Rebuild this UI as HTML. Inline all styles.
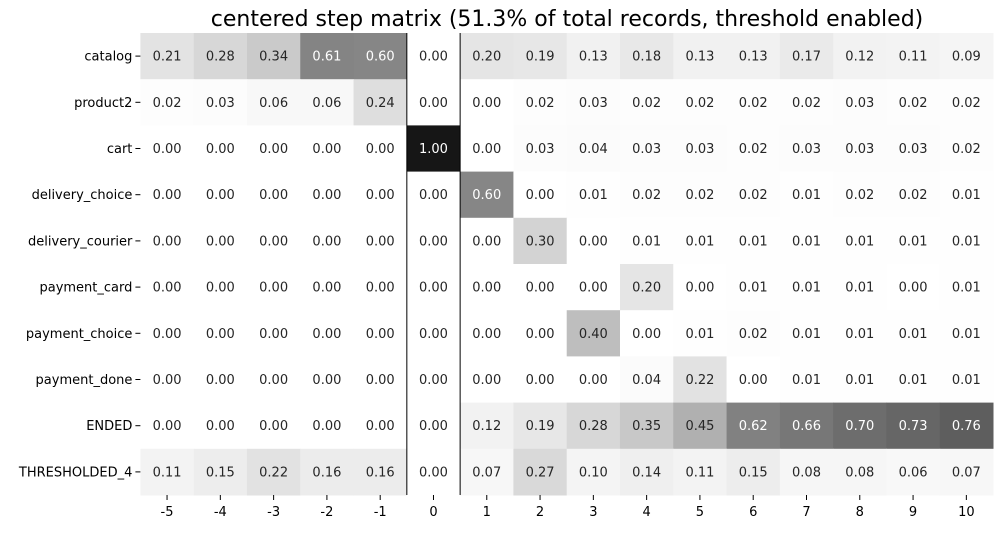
<!DOCTYPE html>
<html><head><meta charset="utf-8"><style>
body{margin:0;background:#fff}
svg text{font-family:"DejaVu Sans","Liberation Sans",sans-serif}
</style></head><body>
<svg id="chart" width="1003" height="530" xmlns="http://www.w3.org/2000/svg">
<text x="567" y="26" text-anchor="middle" font-size="22" fill="#000">centered step matrix (51.3% of total records, threshold enabled)</text>
<g id="cells"></g><g id="axes"></g>
</svg>
<script>
const steps = [-5,-4,-3,-2,-1,0,1,2,3,4,5,6,7,8,9,10];
const events = ["catalog","product2","cart","delivery_choice","delivery_courier","payment_card","payment_choice","payment_done","ENDED","THRESHOLDED_4"];
const r_catalog = [0.21,0.28,0.34,0.61,0.60,0.00,0.20,0.19,0.13,0.18,0.13,0.13,0.17,0.12,0.11,0.09];
const r_product2 = [0.02,0.03,0.06,0.06,0.24,0.00,0.00,0.02,0.03,0.02,0.02,0.02,0.02,0.03,0.02,0.02];
const r_cart = [0,0,0,0,0,1.00,0.00,0.03,0.04,0.03,0.03,0.02,0.03,0.03,0.03,0.02];
const r_delivery_choice = [0,0,0,0,0,0,0.60,0.00,0.01,0.02,0.02,0.02,0.01,0.02,0.02,0.01];
const r_delivery_courier = [0,0,0,0,0,0,0.00,0.30,0.00,0.01,0.01,0.01,0.01,0.01,0.01,0.01];
const r_payment_card = [0,0,0,0,0,0,0.00,0.00,0.00,0.20,0.00,0.01,0.01,0.01,0.00,0.01];
const r_payment_choice = [0,0,0,0,0,0,0.00,0.00,0.40,0.00,0.01,0.02,0.01,0.01,0.01,0.01];
const r_payment_done = [0,0,0,0,0,0,0.00,0.00,0.00,0.04,0.22,0.00,0.01,0.01,0.01,0.01];
const r_ended = [0,0,0,0,0,0,0.12,0.19,0.28,0.35,0.45,0.62,0.66,0.70,0.73,0.76];
const r_thresholded = [0.11,0.15,0.22,0.16,0.16,0.00,0.07,0.27,0.10,0.14,0.11,0.15,0.08,0.08,0.06,0.07];
const values = [r_catalog,r_product2,r_cart,r_delivery_choice,r_delivery_courier,r_payment_card,r_payment_choice,r_payment_done,r_ended,r_thresholded];

const X0=140.4, X1=993, Y0=33, Y1=495;
const cw=(X1-X0)/steps.length, ch=(Y1-Y0)/events.length;
const xOf=i=>X0+i*cw, yOf=j=>Y0+j*ch;
const stops=[255,240,217,189,150,115,82,37,0];
function grey(v){v=Math.max(0,Math.min(1,v/1.08));const t=v*8,i=Math.min(7,Math.floor(t)),f=t-i;const g=Math.round(stops[i]+(stops[i+1]-stops[i])*f);return `rgb(${g},${g},${g})`;}
const NS="http://www.w3.org/2000/svg";
const cells=document.getElementById('cells'), axes=document.getElementById('axes');
function mk(tag,attrs,parent){const e=document.createElementNS(NS,tag);for(const k in attrs)e.setAttribute(k,attrs[k]);parent.appendChild(e);return e;}
values.forEach((row,j)=>{row.forEach((v,i)=>{
  const r=mk('rect',{x:xOf(i),y:yOf(j),width:cw+0.5,height:ch+0.5,fill:grey(v)},cells);
  
  
  const t=mk('text',{x:xOf(i)+cw/2,y:yOf(j)+ch/2+4.5,'text-anchor':'middle','font-size':13,fill:v>0.5?'#fff':'#262626'},cells);
  t.textContent=v.toFixed(2);
  
  
});});
events.forEach((e,j)=>{
  const y=yOf(j)+ch/2;
  mk('line',{x1:X0-5,x2:X0,y1:y,y2:y,stroke:'#000'},axes);
  const t=mk('text',{x:X0-8,y:y+4.5,'text-anchor':'end','font-size':13,fill:'#000'},axes);
  t.textContent=e;
  
  
});
steps.forEach((s,i)=>{
  const x=xOf(i)+cw/2;
  mk('line',{x1:x,x2:x,y1:Y1,y2:Y1+5,stroke:'#000'},axes);
  const t=mk('text',{x:x,y:Y1+21,'text-anchor':'middle','font-size':13,fill:'#000'},axes);
  t.textContent=s;
  
  
});
const zi=steps.indexOf(0);
[zi,zi+1].forEach(i=>{
  const l=mk('line',{x1:xOf(i),x2:xOf(i),y1:Y0,y2:Y1,stroke:'#000','stroke-width':1},axes);
  
  
});
</script>
</body></html>
